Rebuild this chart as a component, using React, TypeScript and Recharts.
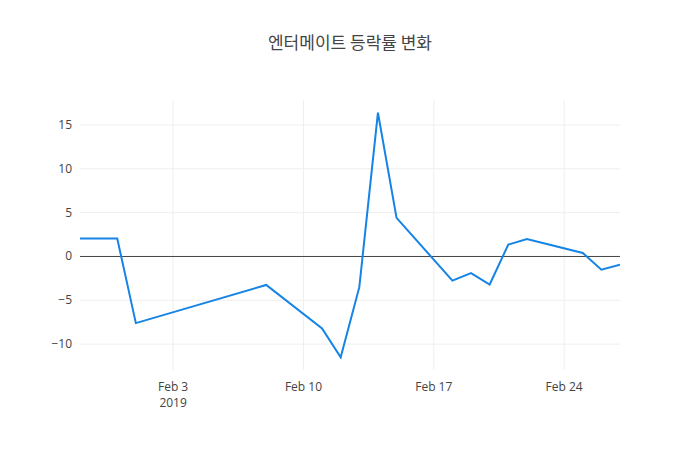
import React from 'react';
import { LineChart, Line, XAxis, YAxis, CartesianGrid, ReferenceLine } from 'recharts';

const dates: string[] = [
  '2019-01-29', '2019-01-31', '2019-02-01', '2019-02-08', '2019-02-11', '2019-02-12',
  '2019-02-13', '2019-02-14', '2019-02-15', '2019-02-18', '2019-02-19', '2019-02-20',
  '2019-02-21', '2019-02-22', '2019-02-25', '2019-02-26', '2019-02-27',
];
const values: number[] = [
  2.05, 2.05, -7.6, -3.25, -8.2, -11.5, -3.5, 16.4, 4.4, -2.75, -1.9, -3.2, 1.35, 2.0, 0.4, -1.5, -0.95,
];
const xTickDates: string[] = ['2019-02-03', '2019-02-10', '2019-02-17', '2019-02-24'];
const xTickLabels: string[] = ['Feb 3', 'Feb 10', 'Feb 17', 'Feb 24'];
const yTicks: number[] = [-10, -5, 0, 5, 10, 15];
const title = '엔터메이트 등락률 변화';

const toTs = (d: string) => Date.parse(d + 'T00:00:00Z');
const data = dates.map((d, i) => ({ t: toTs(d), v: values[i] }));
const xTicks = xTickDates.map(toTs);

const FONT = '"Open Sans", "Noto Sans", sans-serif';

const XTick = (props: any) => {
  const { x, y, payload } = props;
  const idx = xTicks.indexOf(payload.value);
  return (
    <g>
      <text x={x} y={y + 13} textAnchor="middle" fill="#444" fontSize={12} fontFamily={FONT}>
        {xTickLabels[idx]}
      </text>
      {idx === 0 && (
        <text x={x} y={y + 29} textAnchor="middle" fill="#444" fontSize={12} fontFamily={FONT}>
          2019
        </text>
      )}
    </g>
  );
};

const YTick = (props: any) => {
  const { x, y, payload } = props;
  return (
    <text x={x} y={y + 4} textAnchor="end" fill="#444" fontSize={12} fontFamily={FONT}>
      {payload.value === 0 ? '0' : payload.value < 0 ? '\u2212' + Math.abs(payload.value) : payload.value}
    </text>
  );
};

export default function App() {
  return (
    <div style={{ position: 'absolute', left: 0, top: 0, width: 700, height: 450, background: '#fff' }}>
      <svg width={700} height={450} style={{ position: 'absolute', left: 0, top: 0 }}>
        <text x={350} y={49} textAnchor="middle" fontSize={17} fill="#444"
          fontFamily={'"Noto Sans CJK KR", "Open Sans", sans-serif'}>
          {title}
        </text>
      </svg>
      <div style={{ position: 'absolute', left: 0, top: 0 }}>
        <LineChart width={700} height={450} data={data}
          margin={{ top: 100, right: 80, bottom: 50, left: 40 }}>
          <CartesianGrid stroke="#eee" strokeWidth={1} horizontalValues={yTicks} verticalValues={xTicks} />
          <XAxis dataKey="t" type="number" scale="time" domain={[toTs('2019-01-29'), toTs('2019-02-27')]}
            ticks={xTicks} tick={<XTick />} axisLine={false} tickLine={false} height={30}
            allowDataOverflow />
          <YAxis type="number" domain={[-12.95, 17.85]} ticks={yTicks} tick={<YTick />}
            axisLine={false} tickLine={false} width={40} tickMargin={2} allowDataOverflow />
          <ReferenceLine y={0} stroke="#444" strokeWidth={1} />
          <Line type="linear" dataKey="v" stroke="#1584e6" strokeWidth={2} dot={false}
            isAnimationActive={false} />
        </LineChart>
      </div>
    </div>
  );
}
